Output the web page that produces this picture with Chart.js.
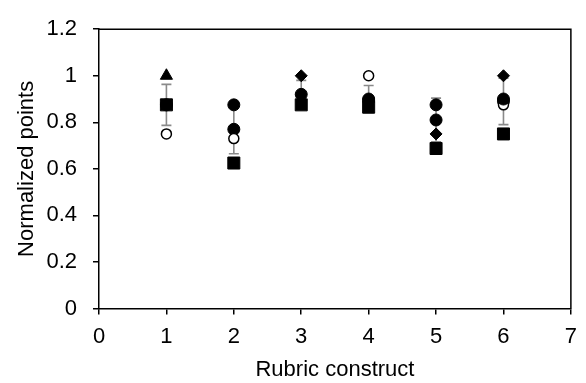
<!DOCTYPE html>
<html><head><meta charset="utf-8">
<script src="https://cdn.jsdelivr.net/npm/chart.js@4.4.0/dist/chart.umd.min.js"></script>
<style>html,body{margin:0;padding:0;background:#fff}#wrap{width:586px;height:383px;position:relative}</style>
</head><body><div id="wrap"><canvas id="c"></canvas></div>
<script>
const constructs = [1, 2, 3, 4, 5, 6];
const triangleVals = [1.0, null, null, null, null, null];
const squareVals = [0.875, 0.625, 0.875, 0.865, 0.6875, 0.75];
const openCircleVals = [0.75, 0.73, null, 1.0, null, 0.875];
const diamondVals = [null, null, 1.0, null, 0.75, 1.0];
const filledCircleVals = [null, 0.875, null, 0.895, 0.875, 0.9];
const meanVals = [0.875, 0.77, 0.92, 0.9, 0.81, 0.89];
const errVals = [0.088, 0.105, 0.06, 0.058, 0.094, 0.1];
const xTicks = [0, 1, 2, 3, 4, 5, 6, 7];
const yTicks = [0, 0.2, 0.4, 0.6, 0.8, 1.0, 1.2];

const FONT = "'Liberation Sans', Arial, sans-serif";
function pts(arr) {
  return constructs.map((x, i) => ({x: x, y: arr[i]})).filter(p => p.y !== null);
}

const errorBars = {
  id: 'errorBars',
  beforeDatasetsDraw(chart) {
    const ctx = chart.ctx, xs = chart.scales.x, ys = chart.scales.y;
    ctx.save();
    ctx.strokeStyle = '#8a8a8a';
    ctx.lineWidth = 1.6;
    constructs.forEach((c, i) => {
      const px = xs.getPixelForValue(c);
      const lo = ys.getPixelForValue(meanVals[i] - errVals[i]);
      const hi = ys.getPixelForValue(meanVals[i] + errVals[i]);
      ctx.beginPath();
      ctx.moveTo(px, lo); ctx.lineTo(px, hi);
      ctx.moveTo(px - 5, lo); ctx.lineTo(px + 5, lo);
      ctx.moveTo(px - 5, hi); ctx.lineTo(px + 5, hi);
      ctx.stroke();
    });
    ctx.restore();
  }
};
const frame = {
  id: 'frame',
  afterDraw(chart) {
    const a = chart.chartArea, ctx = chart.ctx;
    ctx.save();
    ctx.strokeStyle = '#000';
    ctx.lineWidth = 1.5;
    ctx.beginPath();
    ctx.moveTo(a.left, a.top); ctx.lineTo(a.right, a.top); ctx.lineTo(a.right, a.bottom);
    ctx.stroke();
    ctx.restore();
  }
};

new Chart(document.getElementById('c'), {
  type: 'scatter',
  data: {
    datasets: [
      {label: 'Triangle', data: pts(triangleVals), pointStyle: 'triangle', pointRadius: 7, backgroundColor: '#000', borderColor: '#000', borderWidth: 1, order: 1},
      {label: 'Square', data: pts(squareVals), pointStyle: 'rect', pointRadius: 8.5, backgroundColor: '#000', borderColor: '#000', borderWidth: 1, order: 2},
      {label: 'Diamond', data: pts(diamondVals), pointStyle: 'rectRot', pointRadius: 6, backgroundColor: '#000', borderColor: '#000', borderWidth: 1, order: 3},
      {label: 'Filled circle', data: pts(filledCircleVals), pointStyle: 'circle', pointRadius: 6, backgroundColor: '#000', borderColor: '#000', borderWidth: 1, order: 4},
      {label: 'Open circle', data: pts(openCircleVals), pointStyle: 'circle', pointRadius: 5, backgroundColor: '#fff', borderColor: '#000', borderWidth: 1.5, order: 5},
      {label: 'Mean', data: pts(meanVals), pointStyle: 'circle', pointRadius: 6, backgroundColor: '#000', borderColor: '#000', borderWidth: 1, order: 6}
    ]
  },
  options: {
    responsive: true,
    maintainAspectRatio: false,
    animation: false,
    events: [],
    layout: {padding: {top: 22.5, right: 8, left: 0, bottom: 0}},
    plugins: {legend: {display: false}, tooltip: {enabled: false}},
    scales: {
      x: {
        type: 'linear', min: 0, max: 7,
        afterBuildTicks: s => { s.ticks = xTicks.map(v => ({value: v})); },
        afterFit: s => { s.height = 74.5; },
        grid: {display: true, drawOnChartArea: false, drawTicks: true, tickLength: 6, color: '#000', lineWidth: 1.5},
        border: {display: true, color: '#000', width: 1.5},
        ticks: {color: '#000', padding: 9, font: {family: FONT, size: 22}, maxRotation: 0, autoSkip: false, callback: v => String(v)},
        title: {display: true, text: 'Rubric construct', color: '#000', font: {family: FONT, size: 22, lineHeight: 0.86}}
      },
      y: {
        type: 'linear', min: 0, max: 1.2,
        afterBuildTicks: s => { s.ticks = yTicks.map(v => ({value: v})); },
        afterFit: s => { s.width = 99; },
        grid: {display: true, drawOnChartArea: false, drawTicks: true, tickLength: 6, color: '#000', lineWidth: 1.5},
        border: {display: true, color: '#000', width: 1.5},
        ticks: {color: '#000', padding: 16, font: {family: FONT, size: 22}, autoSkip: false, callback: v => String(Number(v.toFixed(1)))},
        title: {display: true, text: 'Normalized points', color: '#000', font: {family: FONT, size: 22, lineHeight: 2.06}}
      }
    }
  },
  plugins: [errorBars, frame]
});
</script>
</body></html>
